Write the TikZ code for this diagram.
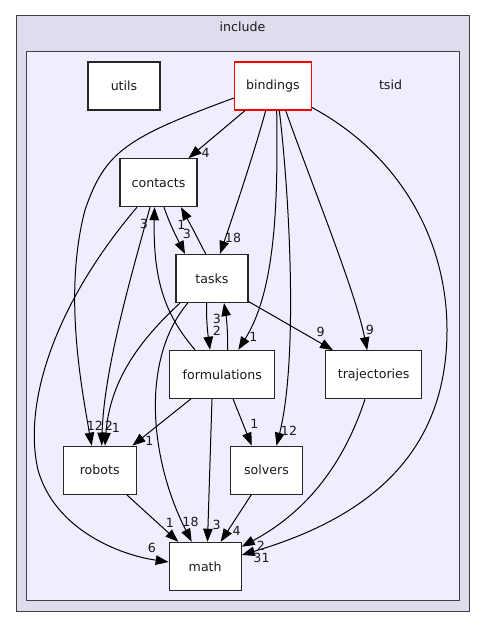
\documentclass[tikz,border=0pt]{standalone}
\usepackage{fontspec}
\setmainfont{DejaVu Sans}
\usetikzlibrary{arrows.meta}
\definecolor{outerfill}{HTML}{DDDDEE}
\definecolor{innerfill}{HTML}{EEEEFF}
\definecolor{clusterline}{HTML}{404040}
\newcommand{\dgfont}{\fontsize{12.6}{15}\selectfont}
\tikzset{
  dirnode/.style={draw=black!85, fill=white, line width=1.1pt, minimum height=48pt, inner sep=0pt, font=\dgfont, text=black!90},
  dep/.style={draw=black, line width=1pt, -{Triangle[length=13pt,width=9.5pt]}},
  elabel/.style={font=\dgfont, inner sep=0pt, text=black!90},
}
\begin{document}
\begin{tikzpicture}[x=1pt,y=-1pt]
\useasboundingbox (0,0) rectangle (485,628);
% clusters
\draw[fill=outerfill, draw=clusterline, line width=1pt] (16,16) rectangle (469,611.5);
\node[elabel] (incl) at (242.5,27) {include};
\draw[fill=innerfill, draw=clusterline, line width=1pt] (26.3,51.7) rectangle (459,600);
\node[elabel] (tsid) at (390.5,85) {tsid};
% nodes
\node[dirnode, minimum width=72pt] (utils) at (124,86) {utils};
\node[dirnode, minimum width=77pt, draw=red] (bindings) at (273,86) {bindings};
\node[dirnode, minimum width=77pt] (contacts) at (158.5,182.7) {contacts};
\node[dirnode, minimum width=72pt] (tasks) at (212,278.5) {tasks};
\node[dirnode, minimum width=105pt] (formulations) at (222.3,374.3) {formulations};
\node[dirnode, minimum width=96pt] (trajectories) at (373.7,374.7) {trajectories};
\node[dirnode, minimum width=73pt] (robots) at (99.7,470.2) {robots};
\node[dirnode, minimum width=72pt] (solvers) at (266.5,470.2) {solvers};
\node[dirnode, minimum width=72pt] (math) at (205.2,566.3) {math};
% edges from bindings
\draw[dep] ([xshift=-28pt]bindings.south) -- ([xshift=30pt]contacts.north);
\node[elabel] (l1) at (205.7,152.7) {4};
\draw[dep] ([yshift=-12pt]bindings.west) .. controls (125,138) and (105,152) .. (85,210)
  .. controls (64,290) and (80,380) .. ([xshift=-8pt]robots.north);
\node[elabel] (l2) at (95,425.5) {12};
\draw[dep] ([xshift=-7.3pt]bindings.south) .. controls (255,150) and (235,210) .. ([xshift=8pt]tasks.north);
\node[elabel] (l3) at (233,238) {18};
\draw[dep] ([xshift=3.7pt]bindings.south) .. controls (278,200) and (276,290) .. ([xshift=16pt]formulations.north);
\node[elabel] (l4) at (253.5,337) {1};
\draw[dep] ([xshift=6.3pt]bindings.south) .. controls (290,200) and (298,360) .. ([xshift=10pt]solvers.north);
\node[elabel] (l5) at (289,431) {12};
\draw[dep] ([xshift=12.7pt]bindings.south) .. controls (310,180) and (355,290) .. ([xshift=-6.5pt]trajectories.north);
\node[elabel] (l6) at (370,329.5) {9};
\draw[dep] ([yshift=3pt]bindings.south east) .. controls (400,155) and (447,240) .. (447,330)
  .. controls (447,460) and (360,520) .. ([yshift=11.3pt]math.east);
\node[elabel] (l7) at (261.5,558) {31};
% contacts
\draw[dep] ([xshift=5.5pt]contacts.south) .. controls (170,225) and (178,240) .. ([xshift=-27pt]tasks.north);
\node[elabel] (l8) at (187,234) {3};
\draw[dep] ([xshift=-21.5pt]contacts.south) .. controls (58,300) and (22,400) .. (38,470)
  .. controls (55,530) and (120,555) .. ([yshift=4.3pt]math.west);
\node[elabel] (l9) at (152,548) {6};
\draw[dep] ([xshift=-8.5pt]contacts.south) .. controls (130,280) and (104,370) .. ([xshift=2pt]robots.north);
\node[elabel] (l10) at (109,425.5) {2};
% tasks
\draw[dep] ([xshift=-6.3pt]tasks.north) .. controls (196,235) and (188,220) .. ([xshift=22.5pt]contacts.south);
\node[elabel] (l11) at (181.5,225) {1};
\draw[dep] ([xshift=-5.3pt]tasks.south) .. controls (206,320) and (208,335) .. ([xshift=-12.3pt]formulations.north);
\node[elabel] (l12) at (217,331) {2};
\draw[dep] ([yshift=1.5pt]tasks.south east) -- ([xshift=-40.7pt]trajectories.north);
\node[elabel] (l13) at (320.7,332) {9};
\draw[dep] ([xshift=-32pt]tasks.south) .. controls (140,340) and (110,380) .. ([xshift=5.3pt]robots.north);
\node[elabel] (l14) at (116,428) {1};
\draw[dep] ([xshift=-24.3pt]tasks.south) .. controls (140,360) and (150,460) .. ([xshift=-13.5pt]math.north);
\node[elabel] (l15) at (190.5,521.7) {18};
% formulations
\draw[dep] ([xshift=-27.3pt]formulations.north) .. controls (165,315) and (153,280) .. ([xshift=-4pt]contacts.south);
\node[elabel] (l16) at (144,224) {3};
\draw[dep] ([xshift=5.4pt]formulations.north) .. controls (228,330) and (226,315) .. ([xshift=12pt]tasks.south);
\node[elabel] (l17) at (217,319) {3};
\draw[dep] ([xshift=-31.3pt]formulations.south) -- ([xshift=-4.3pt]robots.north east);
\node[elabel] (l18) at (149.3,441) {1};
\draw[dep] ([xshift=-10.3pt]formulations.south) -- ([xshift=2.3pt]math.north);
\node[elabel] (l19) at (216.7,524.5) {3};
\draw[dep] ([xshift=10.7pt]formulations.south) -- ([xshift=-14.8pt]solvers.north);
\node[elabel] (l20) at (254.3,424.3) {1};
% solvers, robots, trajectories
\draw[dep] ([xshift=-15.2pt]solvers.south) -- ([xshift=15.5pt]math.north);
\node[elabel] (l21) at (236.7,531) {4};
\draw[dep] ([xshift=27pt]robots.south) -- ([xshift=-26.9pt]math.north);
\node[elabel] (l22) at (170,522.7) {1};
\draw[dep] ([xshift=-8.7pt]trajectories.south) .. controls (345,460) and (310,510) .. ([yshift=19.6pt]math.east);
\node[elabel] (l23) at (261,545.7) {2};
\end{tikzpicture}
\end{document}
